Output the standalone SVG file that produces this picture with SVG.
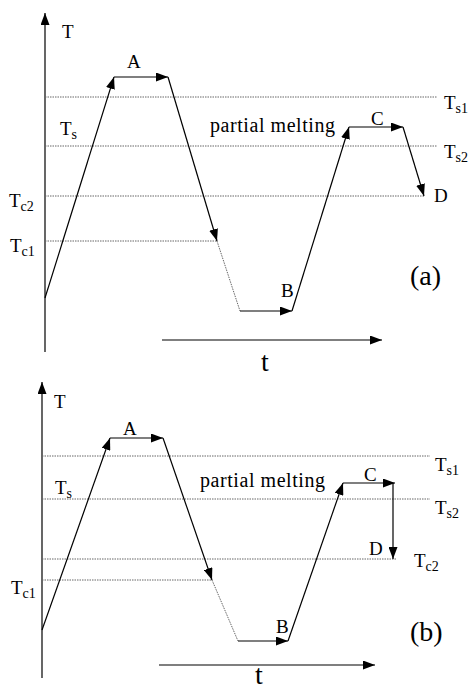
<svg xmlns="http://www.w3.org/2000/svg" width="471" height="691" viewBox="0 0 471 691">
<style>
.ln{stroke:#000;stroke-width:1.2;fill:none}
.ar{marker-end:url(#ah)}
.dt{stroke:#666;stroke-width:1;stroke-dasharray:1.5 1;fill:none}
.tx{font-family:"Liberation Serif","DejaVu Serif","Times New Roman",Times,serif;fill:#000}
.lb{font-size:19px}
.pm{font-size:20px}
.sub{font-size:14px}
.big{font-size:28px}
</style>
<defs>
<marker id="ah" viewBox="0 0 12 9" refX="12" refY="4.5" markerWidth="12" markerHeight="9" orient="auto" markerUnits="userSpaceOnUse"><path d="M0,0L12,4.5L0,9z" fill="#000"/></marker>
</defs>
<rect width="471" height="691" fill="#fff"/>
<g id="connectors">
<line class="ln ar" x1="45" y1="352" x2="45" y2="13"/>
<line class="dt" x1="45" y1="97" x2="437" y2="97"/>
<line class="dt" x1="45" y1="146" x2="437" y2="146"/>
<line class="dt" x1="45" y1="196" x2="425" y2="196"/>
<line class="dt" x1="45" y1="241" x2="217" y2="241"/>
<line class="ln ar" x1="45" y1="298" x2="114" y2="77"/>
<line class="ln ar" x1="114" y1="77" x2="168" y2="77"/>
<line class="ln ar" x1="168" y1="77" x2="217" y2="241"/>
<line class="dt" x1="217" y1="241" x2="240" y2="311"/>
<line class="ln ar" x1="240" y1="311" x2="292" y2="311"/>
<line class="ln ar" x1="292" y1="311" x2="349" y2="127"/>
<line class="ln ar" x1="349" y1="127" x2="403" y2="127"/>
<line class="ln ar" x1="403" y1="127" x2="424" y2="196"/>
<line class="ln ar" x1="162" y1="340" x2="382" y2="340"/>
<line class="ln ar" x1="42" y1="678" x2="42" y2="382"/>
<line class="dt" x1="42" y1="456" x2="430" y2="456"/>
<line class="dt" x1="42" y1="499" x2="430" y2="499"/>
<line class="dt" x1="42" y1="559" x2="397" y2="559"/>
<line class="dt" x1="42" y1="580" x2="212" y2="580"/>
<line class="ln ar" x1="42" y1="630" x2="110" y2="438"/>
<line class="ln ar" x1="110" y1="438" x2="163" y2="438"/>
<line class="ln ar" x1="163" y1="438" x2="212" y2="580"/>
<line class="dt" x1="212" y1="580" x2="238" y2="641"/>
<line class="ln ar" x1="238" y1="641" x2="288" y2="641"/>
<line class="ln ar" x1="288" y1="641" x2="343" y2="483"/>
<line class="ln ar" x1="343" y1="483" x2="395" y2="483"/>
<line class="ln ar" x1="393" y1="483" x2="393" y2="559"/>
<line class="ln ar" x1="159" y1="665" x2="375" y2="665"/>
</g>
<g id="labels-a" class="tx" font-family="Liberation Serif, DejaVu Serif, serif">
<text class="lb" x="62" y="38">T</text>
<text class="lb" x="127" y="68">A</text>
<text class="lb" x="60" y="135">T<tspan class="sub" dy="4">s</tspan></text>
<text class="pm" x="210" y="132" textLength="125" lengthAdjust="spacing">partial melting</text>
<text class="lb" x="371" y="125">C</text>
<text class="lb" x="444" y="109">T<tspan class="sub" dy="4">s1</tspan></text>
<text class="lb" x="444" y="158">T<tspan class="sub" dy="4">s2</tspan></text>
<text class="lb" x="9" y="207">T<tspan class="sub" dy="4">c2</tspan></text>
<text class="lb" x="10" y="252">T<tspan class="sub" dy="4">c1</tspan></text>
<text class="lb" x="434" y="202">D</text>
<text class="lb" x="281" y="297">B</text>
<text class="big" x="410" y="285">(a)</text>
<text class="big" x="261" y="371">t</text>
</g>
<g id="labels-b" class="tx" font-family="Liberation Serif, DejaVu Serif, serif">
<text class="lb" x="54" y="408">T</text>
<text class="lb" x="123" y="435">A</text>
<text class="lb" x="55" y="494">T<tspan class="sub" dy="4">s</tspan></text>
<text class="pm" x="200" y="487" textLength="125" lengthAdjust="spacing">partial melting</text>
<text class="lb" x="364" y="481">C</text>
<text class="lb" x="435" y="471">T<tspan class="sub" dy="4">s1</tspan></text>
<text class="lb" x="435" y="514">T<tspan class="sub" dy="4">s2</tspan></text>
<text class="lb" x="369" y="555">D</text>
<text class="lb" x="414" y="567">T<tspan class="sub" dy="4">c2</tspan></text>
<text class="lb" x="11" y="594">T<tspan class="sub" dy="4">c1</tspan></text>
<text class="lb" x="276" y="633">B</text>
<text class="big" x="410" y="641">(b)</text>
<text class="big" x="255" y="684">t</text>
</g>
</svg>
